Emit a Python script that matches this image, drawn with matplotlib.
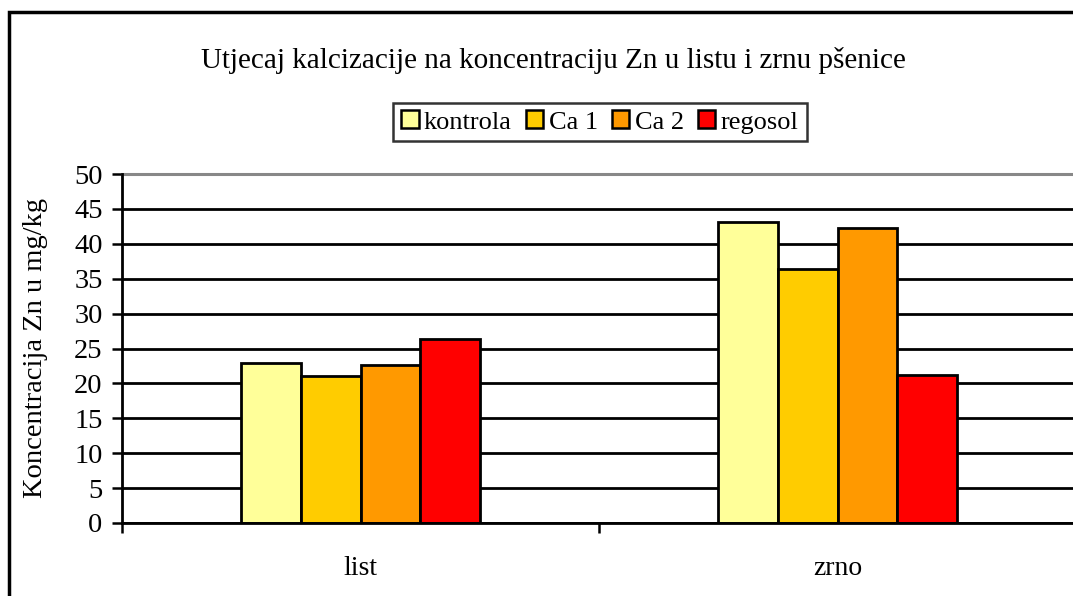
import matplotlib
matplotlib.use("Agg")
import matplotlib.pyplot as plt
from matplotlib.patches import Rectangle, Patch
import numpy as np

# data
categories = ["list", "zrno"]
series_names = ["kontrola", "Ca 1", "Ca 2", "regosol"]
kontrola = [22.9, 43.1]
ca1 = [21.1, 36.4]
ca2 = [22.7, 42.3]
regosol = [26.4, 21.2]
yticks = [0, 5, 10, 15, 20, 25, 30, 35, 40, 45, 50]

colors = ["#FFFF99", "#FFCC00", "#FF9900", "#FF0000"]

plt.rcParams['font.family'] = ['Liberation Serif', 'DejaVu Serif']

W, H = 1073, 596
fig = plt.figure(figsize=(W / 100, H / 100), dpi=100)
fig.patch.set_facecolor("white")

# outer chart border (right and bottom are cut off in the reference)
fig.add_artist(Rectangle((9 / W, -0.1), 1.2, (H - 12) / H + 0.1,
                         transform=fig.transFigure, fill=False,
                         edgecolor="black", lw=2.5))

ax = fig.add_axes([122 / W, (H - 523) / H, (1076 - 122) / W, (523 - 174) / H])

x = np.arange(len(categories))
width = 0.125
all_series = [kontrola, ca1, ca2, regosol]
for i, vals in enumerate(all_series):
    offset = (i - 1.5) * width
    ax.bar(x + offset, vals, width, color=colors[i], edgecolor="black",
           linewidth=2, zorder=3, label=series_names[i])

ax.set_ylim(0, 50)
ax.set_xlim(-0.5, 1.5)
ax.set_yticks(yticks)
ax.set_yticklabels([str(v) for v in yticks], fontsize=20.5)
ax.tick_params(axis="y", length=7, width=1.8, pad=7)

# category boundaries get the tick marks, centres get the labels
ax.set_xticks([-0.5, 0.5, 1.5])
ax.set_xticklabels(["", "", ""])
ax.tick_params(axis="x", which="major", length=7, width=1.8)
ax.set_xticks(x, minor=True)
ax.set_xticklabels(categories, minor=True, fontsize=20)
ax.tick_params(axis="x", which="minor", length=0, pad=24)

ax.grid(axis="y", color="black", linewidth=2, zorder=0)
for s in ["left", "bottom"]:
    ax.spines[s].set_linewidth(2)
    ax.spines[s].set_zorder(4)
ax.spines["right"].set_visible(False)
ax.spines["top"].set_color("#888888")
ax.spines["top"].set_linewidth(2.2)

ax.set_ylabel("Koncentracija Zn u mg/kg", fontsize=20.5)
ax.yaxis.set_label_coords((48 - 122) / (1076 - 122), 0.5)

fig.text(553 / W, 1 - 60 / H, "Utjecaj kalcizacije na koncentraciju Zn u listu i zrnu pšenice",
         ha="center", va="center", fontsize=21)

handles = [Patch(facecolor=c, edgecolor="black", linewidth=1.8) for c in colors]
leg = fig.legend(handles, series_names, loc="center", bbox_to_anchor=(600 / W, 1 - 122 / H),
                 ncol=4, fontsize=19, frameon=True, fancybox=False, handlelength=0.65,
                 handleheight=0.65, handletextpad=0.2, columnspacing=0.55,
                 borderpad=0.3, borderaxespad=0)
leg.get_frame().set_edgecolor("black")
leg.get_frame().set_linewidth(1.8)

fig.savefig("out.png", dpi=100, facecolor="white")
